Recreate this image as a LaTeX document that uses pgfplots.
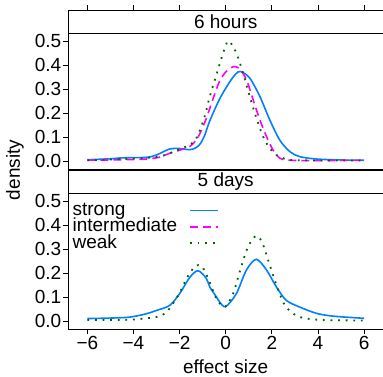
\documentclass[border=0pt]{standalone}
\usepackage{pgfplots}
\pgfplotsset{compat=1.18}
\usepackage{fontspec}
\setmainfont{Liberation Sans}
\definecolor{cstrong}{HTML}{0080FF}
\definecolor{cinter}{HTML}{FF00FF}
\definecolor{cweak}{HTML}{006400}
\newcommand{\bigf}{\fontsize{19}{21}\selectfont}
\pgfplotsset{
  panel/.style={
    scale only axis, width=315.4pt, height=159.3pt,
    xmin=-6.84, xmax=6.84, ymin=-0.035, ymax=0.6315,
    axis line style={line width=0.7pt},
    tick style={line width=0.7pt, black},
    tick align=outside, major tick length=5pt,
    xtick={-6,-4,...,6}, ytick={0,0.1,0.2,0.3,0.4,0.5},
    yticklabels={0.0,0.1,0.2,0.3,0.4,0.5},
    ytick pos=left,
    /pgf/number format/assume math mode=true,
    tick label style={font=\bigf},
    yticklabel style={inner sep=1.5pt},
    clip=false,
  },
  sline/.style={cstrong, line width=1.6pt, smooth},
  iline/.style={cinter, line width=1.6pt, dash pattern=on 8pt off 5pt, smooth},
  wline/.style={cweak, line width=1.8pt, dash pattern=on 1.8pt off 5.8pt, smooth},
}
\begin{document}
\begin{tikzpicture}
\path[use as bounding box] (0,0) rectangle (383pt,377pt);
% top panel
\begin{axis}[panel, at={(68pt,207.7pt)}, anchor=south west,
  xtick pos=right, xticklabels={}]
\draw[line width=0.7pt] (axis cs:-6.84,0.535) -- (axis cs:6.84,0.535);
\node[font=\bigf] at (axis cs:0,0.583) {6 hours};
\addplot[sline] coordinates {(-6,0.005) (-5,0.009) (-4.45,0.013) (-3.44,0.015) (-3,0.025) (-2.43,0.05) (-2.0,0.052) (-1.56,0.047) (-1.3,0.055) (-1.1,0.072) (-0.9,0.11) (-0.69,0.168) (-0.26,0.26) (0.17,0.33) (0.45,0.365) (0.65,0.374) (1.04,0.347) (1.48,0.27) (1.91,0.172) (2.34,0.088) (2.78,0.039) (3.21,0.018) (3.93,0.008) (5,0.004) (6,0.003)};
\addplot[iline] coordinates {(-6,0.003) (-5,0.004) (-4,0.006) (-3.44,0.008) (-2.9,0.015) (-2.43,0.032) (-2.0,0.045) (-1.56,0.06) (-1.3,0.085) (-1.13,0.112) (-0.84,0.178) (-0.55,0.26) (-0.26,0.335) (0.03,0.375) (0.32,0.394) (0.5,0.392) (0.61,0.385) (0.9,0.34) (1.19,0.256) (1.48,0.172) (1.77,0.102) (2.05,0.046) (2.34,0.012) (2.63,0.004) (3,0.002) (4,0.001) (5,0.002) (6,0.002)};
\addplot[wline] coordinates {(-6,0.003) (-5,0.006) (-4,0.01) (-3.44,0.013) (-2.87,0.018) (-2.43,0.032) (-2.0,0.049) (-1.56,0.067) (-1.3,0.09) (-1.13,0.126) (-0.9,0.19) (-0.69,0.27) (-0.4,0.361) (-0.11,0.452) (0.12,0.502) (0.46,0.452) (0.75,0.368) (1.04,0.27) (1.33,0.18) (1.62,0.102) (1.91,0.053) (2.2,0.025) (2.63,0.007) (3,0.003) (4,0.002) (5,0.002) (6,0.002)};
\end{axis}
% bottom panel
\begin{axis}[panel, at={(68pt,47.7pt)}, anchor=south west,
  xtick pos=left,
  xticklabels={−6,−4,−2,0,2,4,6},
  xticklabel style={inner sep=2pt},
  legend plot pos=right, legend cell align=left,
  legend image code/.code={\path (0pt,-7pt); \draw[#1] (0pt,0pt) -- (28pt,0pt);},
  legend style={at={(rel axis cs:0.014,0.80)}, anchor=north west, draw=none, fill=none,
    inner sep=0pt, font=\bigf, row sep=0pt,
    /tikz/column sep=12pt, nodes={inner sep=0pt, text height=13pt, text depth=3.5pt}},
  ]
\draw[line width=0.7pt] (axis cs:-6.84,0.535) -- (axis cs:6.84,0.535);
\node[font=\bigf] at (axis cs:0,0.583) {5 days};
\addplot[sline] coordinates {(-6,0.01) (-5,0.012) (-4.16,0.016) (-3.44,0.03) (-3.0,0.044) (-2.43,0.065) (-2.0,0.114) (-1.56,0.182) (-1.2,0.21) (-0.84,0.178) (-0.69,0.142) (-0.4,0.1) (-0.26,0.079) (0.0,0.06) (0.46,0.114) (0.9,0.213) (1.33,0.258) (1.77,0.213) (2.2,0.142) (2.63,0.086) (3.21,0.058) (3.93,0.032) (4.66,0.02) (6,0.011)};
\addlegendentry{strong}
\addlegendimage{iline}
\addlegendentry{intermediate}
\addplot[wline] coordinates {(-6,0.004) (-5,0.004) (-4.16,0.005) (-3.44,0.011) (-2.87,0.02) (-2.5,0.044) (-2.0,0.117) (-1.7,0.178) (-1.34,0.227) (-1.05,0.23) (-0.76,0.178) (-0.4,0.093) (-0.04,0.058) (0.32,0.114) (0.61,0.206) (0.9,0.294) (1.19,0.347) (1.4,0.354) (1.62,0.319) (1.91,0.234) (2.2,0.15) (2.57,0.065) (3.07,0.022) (3.65,0.008) (4.5,0.003) (6,0.002)};
\addlegendentry{weak}
\end{axis}
\node[rotate=90, font=\bigf] at (15pt,207pt) {density};
\node[anchor=base, inner sep=0pt, font=\bigf] at (225.7pt,3.5pt) {effect size};
\end{tikzpicture}
\end{document}
